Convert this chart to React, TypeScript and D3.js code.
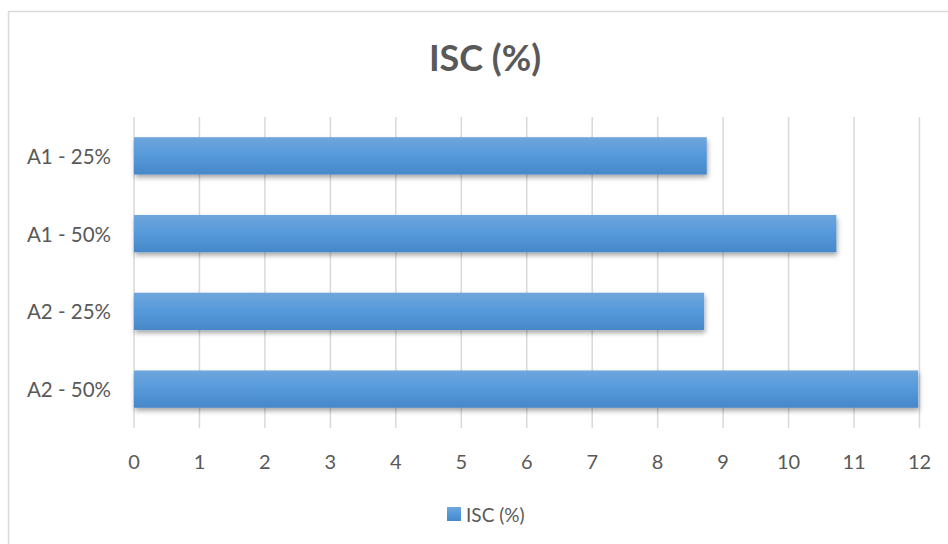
import React, { useEffect, useRef } from 'react';
import * as d3 from 'd3';

// Data
const categories = ['A1 - 25%', 'A1 - 50%', 'A2 - 25%', 'A2 - 50%'];
const values = [8.75, 10.73, 8.71, 11.98];
const xTicks = d3.range(0, 13);
const seriesName = 'ISC (%)';

const App: React.FC = () => {
  const svgRef = useRef<SVGSVGElement>(null);

  useEffect(() => {
    if (!svgRef.current) return;
    const svg = d3.select(svgRef.current);
    svg.selectAll('*').remove();

    const width = 948;
    const height = 544;
    const font = 'Lato, "Open Sans", sans-serif';
    const plot = { left: 134, right: 919.5, top: 117, bottom: 428 };

    const defs = svg.append('defs');
    const grad = defs.append('linearGradient')
      .attr('id', 'barGrad')
      .attr('x1', 0).attr('y1', 0).attr('x2', 0).attr('y2', 1);
    grad.append('stop').attr('offset', '0%').attr('stop-color', '#6fa6dc');
    grad.append('stop').attr('offset', '50%').attr('stop-color', '#5599db');
    grad.append('stop').attr('offset', '100%').attr('stop-color', '#4787c8');

    const filter = defs.append('filter')
      .attr('id', 'shadow')
      .attr('x', '-5%').attr('y', '-20%').attr('width', '110%').attr('height', '160%');
    filter.append('feDropShadow')
      .attr('dx', 1).attr('dy', 3).attr('stdDeviation', 2.5)
      .attr('flood-color', '#000').attr('flood-opacity', 0.35);

    // background + frame
    svg.append('rect')
      .attr('x', 0).attr('y', 0).attr('width', width).attr('height', height)
      .attr('fill', '#fff');
    svg.append('rect')
      .attr('x', 8.5).attr('y', 11.5).attr('width', 960).attr('height', 560)
      .attr('fill', 'none').attr('stroke', '#d9d9d9').attr('stroke-width', 1.5);

    const x = d3.scaleLinear().domain([0, 12]).range([plot.left, plot.right]);
    const y = d3.scaleBand<string>().domain(categories).range([plot.top, plot.bottom]).paddingInner(0.52).paddingOuter(0.26);

    // gridlines
    svg.append('g')
      .selectAll('line')
      .data(xTicks)
      .join('line')
      .attr('x1', d => x(d)).attr('x2', d => x(d))
      .attr('y1', plot.top).attr('y2', plot.bottom)
      .attr('stroke', '#d9d9d9').attr('stroke-width', 1.5);

    // tick labels
    svg.append('g')
      .selectAll('text')
      .data(xTicks)
      .join('text')
      .attr('x', d => x(d))
      .attr('y', 461)
      .attr('text-anchor', 'middle')
      .attr('dominant-baseline', 'central')
      .attr('font-family', font)
      .attr('font-size', 20)
      .attr('fill', '#595959')
      .text(d => String(d));

    // category labels
    svg.append('g')
      .selectAll('text')
      .data(categories)
      .join('text')
      .attr('x', 111)
      .attr('y', d => (y(d) ?? 0) + y.bandwidth() / 2)
      .attr('text-anchor', 'end')
      .attr('dominant-baseline', 'central')
      .attr('font-family', font)
      .attr('font-size', 20.5)
      .attr('fill', '#595959')
      .text(d => d);

    // bars
    svg.append('g')
      .selectAll('rect')
      .data(values)
      .join('rect')
      .attr('x', x(0))
      .attr('y', (_, i) => y(categories[i]) ?? 0)
      .attr('width', d => x(d) - x(0))
      .attr('height', y.bandwidth())
      .attr('fill', 'url(#barGrad)')
      .attr('filter', 'url(#shadow)');

    // title
    svg.append('text')
      .attr('x', 485)
      .attr('y', 57)
      .attr('text-anchor', 'middle')
      .attr('dominant-baseline', 'central')
      .attr('font-family', font)
      .attr('font-size', 36)
      .attr('font-weight', 'bold')
      .attr('fill', '#595959')
      .text(seriesName);

    // legend
    const legend = svg.append('g');
    legend.append('rect')
      .attr('x', 447).attr('y', 507).attr('width', 14).attr('height', 14)
      .attr('fill', 'url(#barGrad)');
    legend.append('text')
      .attr('x', 466)
      .attr('y', 514.5)
      .attr('dominant-baseline', 'central')
      .attr('font-family', font)
      .attr('font-size', 19)
      .attr('fill', '#595959')
      .text(seriesName);
  }, []);

  return (
    <svg
      ref={svgRef}
      width={948}
      height={544}
      viewBox="0 0 948 544"
      style={{ position: 'absolute', left: 0, top: 0, display: 'block' }}
    />
  );
};

export default App;
